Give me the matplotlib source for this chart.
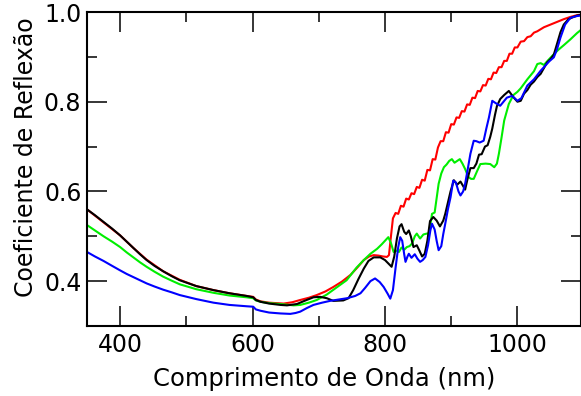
import matplotlib
matplotlib.use("Agg")
import matplotlib.pyplot as plt
from matplotlib.ticker import MultipleLocator

# Wavelength (nm) / reflection coefficient
red_wl = [350, 375, 400, 420, 440, 465, 490, 515, 541, 565, 591, 601, 605, 612, 625, 647,
          660, 672, 685, 697, 710, 722, 735, 748, 758, 768, 776, 783, 790, 797, 803, 806,
          809, 812, 816, 820, 824, 828, 832, 836, 840, 844, 848, 852, 856, 860, 864, 868,
          872, 876, 880, 884, 888, 892, 896, 900, 904, 908, 912, 916, 920, 924, 928, 932,
          936, 940, 944, 948, 952, 956, 960, 964, 968, 972, 976, 980, 984, 988, 992, 996,
          1000, 1005, 1010, 1015, 1020, 1025, 1030, 1040, 1050, 1060, 1070, 1080, 1090, 1100]
red_r = [0.560, 0.531, 0.502, 0.474, 0.448, 0.422, 0.403, 0.389, 0.380, 0.373, 0.367, 0.365, 0.359, 0.355, 0.352, 0.350,
         0.353, 0.358, 0.363, 0.369, 0.377, 0.387, 0.399, 0.414, 0.430, 0.447, 0.455, 0.458, 0.457, 0.455, 0.454, 0.458,
         0.500, 0.540, 0.552, 0.550, 0.568, 0.566, 0.584, 0.582, 0.596, 0.594, 0.610, 0.608, 0.626, 0.624, 0.648, 0.647,
         0.672, 0.671, 0.698, 0.712, 0.712, 0.732, 0.731, 0.750, 0.749, 0.765, 0.764, 0.779, 0.778, 0.794, 0.793, 0.809,
         0.808, 0.824, 0.823, 0.837, 0.836, 0.851, 0.850, 0.865, 0.864, 0.877, 0.877, 0.891, 0.891, 0.907, 0.907, 0.921,
         0.921, 0.934, 0.935, 0.944, 0.946, 0.954, 0.957, 0.966, 0.972, 0.978, 0.984, 0.989, 0.993, 0.995]

black_wl = [350, 362, 375, 388, 400, 410, 420, 430, 440, 452, 465, 478, 490, 515, 541, 565, 591, 601, 605, 612, 625, 642,
            652, 667, 680, 692, 702, 712, 722, 737, 745, 752, 760, 768, 775, 783, 793, 800,
            806, 810, 814, 818, 822, 825, 829, 832, 836, 839, 843, 848, 852, 856, 860, 864,
            868, 873, 878, 883, 888, 891, 895, 899, 904, 909, 914, 918, 921, 925, 929, 934,
            938, 942, 946, 951, 955, 959, 962, 966, 969, 974, 980, 987, 994, 1000, 1005, 1010,
            1015, 1020, 1025, 1030, 1035, 1040, 1045, 1050, 1055, 1060, 1065, 1070, 1077, 1083, 1090, 1100]
black_r = [0.560, 0.547, 0.532, 0.517, 0.502, 0.488, 0.474, 0.460, 0.447, 0.434, 0.422, 0.411, 0.402, 0.389, 0.380, 0.373,
           0.367, 0.364, 0.358, 0.354, 0.350, 0.347,
           0.346, 0.349, 0.357, 0.364, 0.365, 0.362, 0.356, 0.357, 0.362, 0.380, 0.405, 0.428, 0.445, 0.453, 0.453, 0.447,
           0.438, 0.432, 0.455, 0.495, 0.522, 0.527, 0.510, 0.505, 0.513, 0.500, 0.476, 0.480, 0.468, 0.455, 0.461, 0.490,
           0.534, 0.543, 0.535, 0.522, 0.535, 0.550, 0.575, 0.600, 0.625, 0.615, 0.622, 0.612, 0.604, 0.630, 0.652, 0.652,
           0.662, 0.682, 0.683, 0.700, 0.703, 0.722, 0.740, 0.770, 0.790, 0.806, 0.815, 0.824, 0.810, 0.800, 0.802, 0.818,
           0.826, 0.838, 0.845, 0.855, 0.862, 0.875, 0.888, 0.895, 0.905, 0.930, 0.955, 0.972, 0.984, 0.988, 0.992, 0.995]

green_wl = [350, 362, 375, 388, 400, 410, 420, 430, 440, 452, 465, 478, 490, 515, 541, 565, 591, 601, 605, 612, 625, 642,
            662, 672, 685, 697, 712, 727, 742, 757, 768, 778, 788, 795, 800, 805, 809, 813,
            817, 821, 825, 829, 833, 837, 841, 845, 848, 853, 858, 863, 866, 869, 871, 875,
            878, 881, 885, 889, 893, 897, 901, 905, 909, 913, 917, 921, 926, 930, 934, 939,
            944, 952, 959, 965, 969, 972, 976, 980, 987, 994, 1000, 1005, 1010, 1015, 1025, 1030,
            1035, 1040, 1046, 1055, 1062, 1070, 1080, 1090, 1100]
green_r = [0.525, 0.513, 0.500, 0.488, 0.476, 0.464, 0.453, 0.442, 0.432, 0.421, 0.410, 0.401, 0.393, 0.382, 0.374, 0.368,
           0.364, 0.362, 0.357, 0.354, 0.351, 0.349,
           0.346, 0.347, 0.352, 0.358, 0.370, 0.386, 0.402, 0.430, 0.447, 0.461, 0.472, 0.482, 0.490, 0.498, 0.485, 0.465,
           0.468, 0.465, 0.475, 0.470, 0.476, 0.478, 0.484, 0.500, 0.506, 0.495, 0.504, 0.506, 0.506, 0.530, 0.550, 0.553,
           0.585, 0.617, 0.640, 0.654, 0.660, 0.668, 0.672, 0.664, 0.668, 0.672, 0.662, 0.650, 0.632, 0.628, 0.628, 0.645,
           0.661, 0.662, 0.661, 0.654, 0.662, 0.684, 0.720, 0.758, 0.795, 0.815, 0.822, 0.830, 0.840, 0.850, 0.868, 0.884,
           0.886, 0.882, 0.892, 0.906, 0.916, 0.926, 0.939, 0.953, 0.965]

blue_wl = [350, 362, 375, 388, 400, 410, 420, 430, 440, 452, 465, 478, 490, 515, 541, 565, 591, 601, 605, 612, 625, 642,
           657, 665, 672, 682, 692, 705, 717, 730, 743, 755, 763, 770, 778, 785, 792, 798,
           804, 808, 812, 816, 820, 823, 826, 829, 831, 834, 836, 840, 845, 849, 853, 857,
           861, 865, 868.5, 871, 875, 878, 881, 885, 888, 891, 895, 899, 903, 907, 911, 914,
           918, 921, 925, 929, 934, 938, 943, 949, 953, 957, 962, 967, 974, 979, 984, 992,
           1000, 1006, 1015, 1025, 1035, 1040, 1048, 1055, 1060, 1065, 1072, 1080, 1090, 1100]
blue_r = [0.465, 0.455, 0.445, 0.434, 0.424, 0.416, 0.409, 0.402, 0.395, 0.388, 0.381, 0.375, 0.369, 0.360, 0.352, 0.347,
          0.344, 0.343, 0.337, 0.334, 0.330, 0.328,
          0.327, 0.329, 0.332, 0.340, 0.347, 0.352, 0.356, 0.359, 0.362, 0.367, 0.373, 0.385, 0.400, 0.406, 0.398, 0.387,
          0.372, 0.361, 0.380, 0.430, 0.476, 0.498, 0.490, 0.460, 0.443, 0.455, 0.461, 0.452, 0.460, 0.450, 0.443, 0.447,
          0.454, 0.480, 0.513, 0.528, 0.515, 0.490, 0.469, 0.478, 0.505, 0.528, 0.560, 0.587, 0.624, 0.620, 0.600, 0.591,
          0.600, 0.617, 0.650, 0.684, 0.713, 0.712, 0.709, 0.713, 0.740, 0.765, 0.802, 0.797, 0.791, 0.800, 0.809, 0.813,
          0.802, 0.808, 0.836, 0.850, 0.869, 0.877, 0.890, 0.899, 0.918, 0.943, 0.972, 0.987, 0.991, 0.993]

plt.rcParams["font.family"] = ["DejaVu Sans"]

fig = plt.figure(figsize=(5.81, 3.96), dpi=100)
ax = fig.add_axes([87 / 581, 1 - 326 / 396, 494 / 581, 314 / 396])

lw = 1.5
ax.plot(red_wl, red_r, color="#ff0000", linewidth=lw)
ax.plot(green_wl, green_r, color="#00ee00", linewidth=lw)
ax.plot(black_wl, black_r, color="#000000", linewidth=lw)
ax.plot(blue_wl, blue_r, color="#0000ff", linewidth=lw)

ax.set_xlim(350, 1096)
ax.set_ylim(0.3, 1.0)
ax.xaxis.set_major_locator(MultipleLocator(200))
ax.xaxis.set_minor_locator(MultipleLocator(100))
ax.yaxis.set_major_locator(MultipleLocator(0.2))
ax.yaxis.set_minor_locator(MultipleLocator(0.1))
ax.tick_params(which="both", direction="in", top=True, right=True, width=1.1,
               labelsize=17, colors="black")
ax.tick_params(which="major", length=14.5)
ax.tick_params(which="minor", length=7.5)
ax.tick_params(axis="x", pad=5)
ax.tick_params(axis="y", pad=4)
for side in ax.spines.values():
    side.set_linewidth(1.5)

ax.set_xlabel("Comprimento de Onda (nm)", fontsize=17.5)
ax.xaxis.set_label_coords(0.48, -0.13)
ax.set_ylabel("Coeficiente de Reflexão", fontsize=17)
ax.yaxis.set_label_coords(-0.10, 0.537)

fig.savefig("out.png", dpi=100)
